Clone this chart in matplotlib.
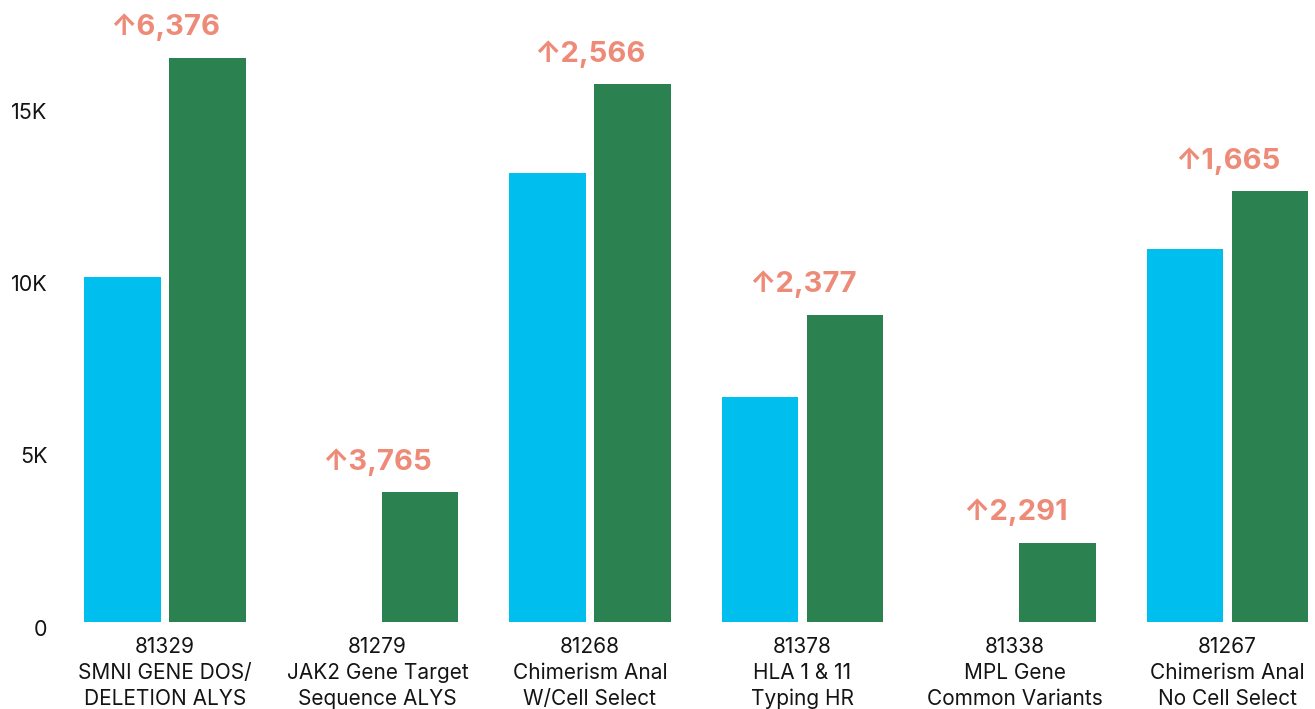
import matplotlib
matplotlib.use("Agg")
import matplotlib.pyplot as plt
import matplotlib.transforms as mtransforms
import numpy as np

# data
codes = ["81329", "81279", "81268", "81378", "81338", "81267"]
names = [
    "SMNI GENE DOS/\nDELETION ALYS",
    "JAK2 Gene Target\nSequence ALYS",
    "Chimerism Anal\nW/Cell Select",
    "HLA 1 & 11\nTyping HR",
    "MPL Gene\nCommon Variants",
    "Chimerism Anal\nNo Cell Select",
]
before = [10000, 0, 13040, 6530, 0, 10835]
after = [16376, 3765, 15606, 8907, 2291, 12500]
y_ticks = [0, 5000, 10000, 15000]
y_tick_labels = ["0", "5K", "10K", "15K"]

BLUE = "#00BEEE"
GREEN = "#2B8250"
SALMON = "#EE8B78"
TEXT = "#141414"

plt.rcParams["font.family"] = ["Inter", "DejaVu Sans"]

fig = plt.figure(figsize=(13.15, 7.09), dpi=100)
ax = fig.add_axes([60 / 1315, 87 / 709, 1255 / 1315, 622 / 709])

x = np.arange(len(codes))
width = 0.362
ax.bar(x - 0.2, before, width=width, color=BLUE, zorder=2)
ax.bar(x + 0.2, after, width=width, color=GREEN, zorder=2)

# increase labels above each group
changes = np.subtract(after, before)
for xi, top, d in zip(x, np.maximum(before, after), changes):
    ax.annotate(f"\u2191{d:,}", xy=(xi, top), xytext=(0, 12), textcoords="offset points",
                ha="center", va="bottom", fontsize=21, fontweight="bold", color=SALMON)

ax.set_xlim(-0.4941, 5.4118)
ax.set_ylim(0, 18050)

ax.set_xticks(x)
ax.set_xticklabels([f"{c}\n{n}" for c, n in zip(codes, names)], fontsize=15,
                   color=TEXT, linespacing=1.36)
ax.set_yticks(y_ticks)
ax.set_yticklabels(y_tick_labels, fontsize=15.5, color=TEXT)
ax.tick_params(axis="both", length=0)
ax.tick_params(axis="x", pad=11)
ax.tick_params(axis="y", pad=9)

# nudge y labels slightly below their ticks like the original
offset = mtransforms.ScaledTranslation(0, -5.5 / 100, fig.dpi_scale_trans)
for lab in ax.get_yticklabels():
    lab.set_transform(lab.get_transform() + offset)

for s in ax.spines.values():
    s.set_visible(False)

fig.savefig("out.png", dpi=100)
